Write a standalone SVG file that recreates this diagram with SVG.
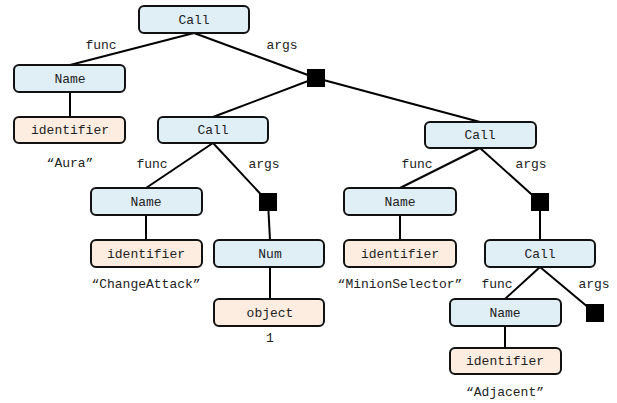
<svg xmlns="http://www.w3.org/2000/svg" width="617" height="403" viewBox="0 0 617 403">
<style>
.n rect{stroke:#111;stroke-width:2;}
.b rect{fill:#e0eef6;}
.p rect{fill:#fdede0;}
text{font-family:"Liberation Mono","Courier New",monospace;font-size:13px;fill:#222;text-anchor:middle;dominant-baseline:central;}
.e line{stroke:#000;stroke-width:2;}
.sq{fill:#000;}
</style>
<rect width="617" height="403" fill="#fff"/>
<g id="connectors" class="e">
<line x1="194" y1="33" x2="70" y2="65"/>
<line x1="194" y1="33" x2="316" y2="78"/>
<line x1="70" y1="92" x2="70" y2="117"/>
<line x1="316" y1="78" x2="213" y2="117"/>
<line x1="316" y1="78" x2="480" y2="122"/>
<line x1="213" y1="143" x2="146" y2="188"/>
<line x1="213" y1="143" x2="268" y2="202"/>
<line x1="146" y1="215" x2="146" y2="240"/>
<line x1="268" y1="202" x2="270" y2="240"/>
<line x1="270" y1="267" x2="270" y2="299"/>
<line x1="480" y1="148" x2="400" y2="188"/>
<line x1="480" y1="148" x2="540" y2="202"/>
<line x1="400" y1="215" x2="400" y2="240"/>
<line x1="540" y1="202" x2="540" y2="240"/>
<line x1="540" y1="267" x2="505" y2="299"/>
<line x1="540" y1="267" x2="595" y2="313"/>
<line x1="505" y1="326" x2="505" y2="348"/>
</g>
<g id="edge-labels">
<text x="101" y="45">func</text>
<text x="282" y="45">args</text>
<text x="152" y="164">func</text>
<text x="264" y="164">args</text>
<text x="417" y="164">func</text>
<text x="531" y="164">args</text>
<text x="497" y="284">func</text>
<text x="594" y="284">args</text>
</g>
<g id="call1" class="n b"><rect x="139" y="6" width="110" height="27" rx="5"/><text x="194" y="20">Call</text></g>
<g id="name1" class="n b"><rect x="14" y="65" width="111" height="27" rx="5"/><text x="70" y="79">Name</text></g>
<g id="ident1" class="n p"><rect x="14" y="117" width="111" height="26" rx="5"/><text x="70" y="130">identifier</text></g>
<text x="70" y="163">“Aura”</text>
<g id="args1"><rect class="sq" x="307" y="69" width="18" height="18"/></g>
<g id="call2" class="n b"><rect x="158" y="117" width="110" height="26" rx="5"/><text x="213" y="130">Call</text></g>
<g id="name2" class="n b"><rect x="91" y="188" width="111" height="27" rx="5"/><text x="146" y="202">Name</text></g>
<g id="ident2" class="n p"><rect x="91" y="240" width="111" height="27" rx="5"/><text x="146" y="254">identifier</text></g>
<text x="146" y="284">“ChangeAttack”</text>
<g id="args2"><rect class="sq" x="259" y="193" width="18" height="18"/></g>
<g id="num" class="n b"><rect x="214" y="240" width="110" height="27" rx="5"/><text x="270" y="254">Num</text></g>
<g id="object" class="n p"><rect x="214" y="299" width="110" height="27" rx="5"/><text x="270" y="313">object</text></g>
<text x="270" y="338">1</text>
<g id="call3" class="n b"><rect x="425" y="122" width="111" height="26" rx="5"/><text x="480" y="135">Call</text></g>
<g id="name3" class="n b"><rect x="344" y="188" width="112" height="27" rx="5"/><text x="400" y="202">Name</text></g>
<g id="ident3" class="n p"><rect x="344" y="240" width="112" height="27" rx="5"/><text x="400" y="254">identifier</text></g>
<text x="400" y="284">“MinionSelector”</text>
<g id="args3"><rect class="sq" x="531" y="193" width="18" height="18"/></g>
<g id="call4" class="n b"><rect x="485" y="240" width="110" height="27" rx="5"/><text x="540" y="254">Call</text></g>
<g id="name4" class="n b"><rect x="450" y="299" width="111" height="27" rx="5"/><text x="505" y="313">Name</text></g>
<g id="args4"><rect class="sq" x="586" y="304" width="18" height="18"/></g>
<g id="ident4" class="n p"><rect x="450" y="348" width="111" height="26" rx="5"/><text x="505" y="361">identifier</text></g>
<text x="505" y="392">“Adjacent”</text>
</svg>
